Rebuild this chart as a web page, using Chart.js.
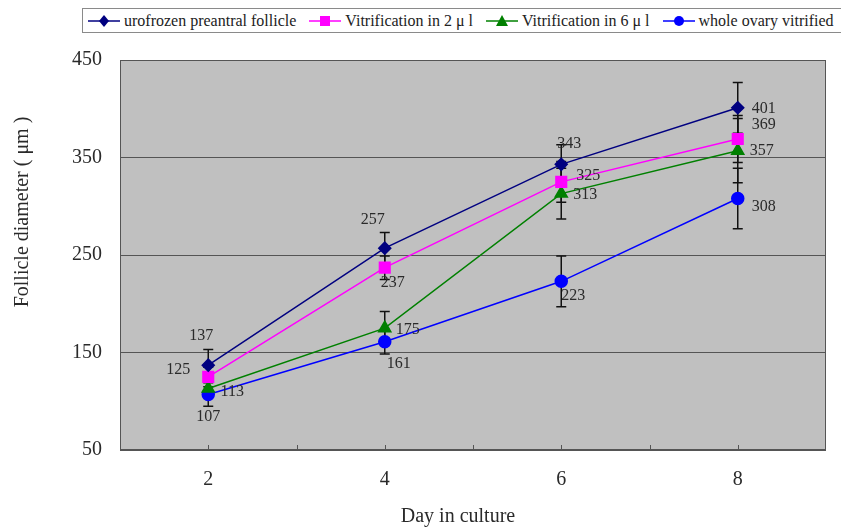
<!DOCTYPE html>
<html>
<head>
<meta charset="utf-8">
<script src="https://cdn.jsdelivr.net/npm/chart.js@4/dist/chart.umd.min.js"></script>
<style>
  html, body { margin: 0; padding: 0; background: #fff; }
  #wrap { position: relative; width: 841px; height: 529px; overflow: hidden; }
  #legend {
    position: absolute; left: 82px; top: 8px; width: 800px; height: 25px;
    border: 1px solid #8a8a8a; background: #fff; box-sizing: border-box; padding-left: 4px;
    display: flex; align-items: center; white-space: nowrap;
    font-family: 'Liberation Serif', 'DejaVu Serif', serif; font-size: 16px; color: #222;
  }
  .item { display: flex; align-items: center; margin-right: 12px; }
  .item svg { margin: 0 3px 0 0; }
</style>
</head>
<body>
<div id="wrap">
  <canvas id="chart" width="841" height="529"></canvas>
  <div id="legend"></div>
</div>
<script>
const DAYS          = [2, 4, 6, 8];
const Y_TICKS       = [50, 150, 250, 350, 450];
const SERIES_NAMES  = ['urofrozen preantral follicle', 'Vitrification in 2 \u03bc l', 'Vitrification in 6 \u03bc l', 'whole ovary vitrified'];
const UROFROZEN     = [137, 257, 343, 401];
const VIT_2UL       = [125, 237, 325, 369];
const VIT_6UL       = [113, 175, 313, 357];
const WHOLE_OVARY   = [107, 161, 223, 308];
const SD_UROFROZEN  = [16, 16, 20, 26];
const SD_VIT_2UL    = [10, 12, 21, 24];
const SD_VIT_6UL    = [8, 17, 26, 33];
const SD_WHOLE      = [12, 12.5, 26, 31];

const COLORS  = ['#000080', '#ff00ff', '#008000', '#0000ff'];
const POINTS  = ['rectRot', 'rect', 'triangle', 'circle'];
const RADII   = [6, 7.5, 7, 6];
const SERIF   = "'Liberation Serif', 'DejaVu Serif', serif";
const TXT     = '#2a2a2a';

// label offsets from each point, px (placement only)
const LABEL_OFFSETS = [
  [[-7, -29], [-12, -28], [8, -21], [26, 1]],
  [[-30, -7], [8, 15], [27, -6], [26, -14]],
  [[24, 3], [23, 2], [24, 1], [24, 0]],
  [[0, 22], [14, 22], [12, 14], [26, 8]],
];

const values = [UROFROZEN, VIT_2UL, VIT_6UL, WHOLE_OVARY];
const errors = [SD_UROFROZEN, SD_VIT_2UL, SD_VIT_6UL, SD_WHOLE];

// legend
const legendEl = document.getElementById('legend');
SERIES_NAMES.forEach((name, i) => {
  const c = COLORS[i];
  let mark;
  if (i === 0) mark = `<polygon points="17,1 22,7 17,13 12,7" fill="${c}"/>`;
  else if (i === 1) mark = `<rect x="12" y="2" width="10" height="10" fill="${c}"/>`;
  else if (i === 2) mark = `<polygon points="17,1 23,12 11,12" fill="${c}"/>`;
  else mark = `<circle cx="17" cy="7" r="5" fill="${c}"/>`;
  legendEl.insertAdjacentHTML('beforeend',
    `<span class="item"><svg width="34" height="14"><line x1="1" y1="7" x2="33" y2="7" stroke="${c}" stroke-width="1.5"/>${mark}</svg>${name}</span>`);
});

const plotDecor = {
  id: 'plotDecor',
  beforeDraw(chart) {
    const { ctx, chartArea: a } = chart;
    ctx.save();
    ctx.fillStyle = '#c0c0c0';
    ctx.fillRect(a.left, a.top, a.right - a.left, a.bottom - a.top);
    ctx.restore();
  },
  beforeDatasetsDraw(chart) {
    const { ctx, scales: { x, y } } = chart;
    ctx.save();
    ctx.strokeStyle = '#111';
    ctx.lineWidth = 1.5;
    errors.forEach((sd, s) => {
      sd.forEach((e, i) => {
        const px = x.getPixelForValue(DAYS[i]);
        const top = y.getPixelForValue(values[s][i] + e);
        const bot = y.getPixelForValue(values[s][i] - e);
        ctx.beginPath();
        ctx.moveTo(px, top); ctx.lineTo(px, bot);
        ctx.moveTo(px - 5, top); ctx.lineTo(px + 5, top);
        ctx.moveTo(px - 5, bot); ctx.lineTo(px + 5, bot);
        ctx.stroke();
      });
    });
    ctx.restore();
  },
  afterDraw(chart) {
    const { ctx, chartArea: a, scales: { x, y } } = chart;
    ctx.save();
    // frame and x tick marks
    ctx.strokeStyle = '#555';
    ctx.lineWidth = 1;
    ctx.strokeRect(a.left + 0.5, a.top + 0.5, a.right - a.left - 1, a.bottom - a.top - 1);
    for (let d = 2; d <= 8; d++) {
      const px = Math.round(x.getPixelForValue(d)) + 0.5;
      ctx.beginPath(); ctx.moveTo(px, a.bottom); ctx.lineTo(px, a.bottom - 5); ctx.stroke();
    }
    // data labels
    ctx.fillStyle = TXT;
    ctx.font = `16px ${SERIF}`;
    ctx.textAlign = 'center';
    ctx.textBaseline = 'middle';
    values.forEach((vals, s) => {
      vals.forEach((v, i) => {
        const [dx, dy] = LABEL_OFFSETS[s][i];
        ctx.fillText(String(v), x.getPixelForValue(DAYS[i]) + dx, y.getPixelForValue(v) + dy);
      });
    });
    // axis titles
    ctx.font = `20px ${SERIF}`;
    ctx.fillText('Day in culture', 458, 517);
    ctx.translate(23, 212);
    ctx.rotate(-Math.PI / 2);
    ctx.fillText('Follicle diameter ( \u03bcm )', 0, 0);
    ctx.restore();
  },
};

new Chart(document.getElementById('chart'), {
  type: 'line',
  data: {
    datasets: values.map((vals, s) => ({
      label: SERIES_NAMES[s],
      data: vals.map((v, i) => ({ x: DAYS[i], y: v })),
      borderColor: COLORS[s],
      backgroundColor: COLORS[s],
      borderWidth: 1.5,
      pointStyle: POINTS[s],
      pointRadius: RADII[s],
      pointHoverRadius: RADII[s],
      tension: 0,
    })),
  },
  options: {
    responsive: false,
    animation: false,
    layout: { padding: { top: 60, right: 15, left: 0, bottom: 0 } },
    plugins: { legend: { display: false }, tooltip: { enabled: false } },
    scales: {
      x: {
        type: 'linear', min: 1, max: 9,
        afterFit: s => { s.height = 79; },
        grid: { display: false },
        border: { display: false },
        ticks: {
          stepSize: 1, padding: 10, color: TXT, font: { family: SERIF, size: 20 },
          callback: v => DAYS.includes(v) ? v : '',
        },
      },
      y: {
        min: 50, max: 450,
        afterFit: s => { s.width = 120; },
        afterBuildTicks: s => { s.ticks = Y_TICKS.map(v => ({ value: v })); },
        grid: { color: '#555', drawTicks: false },
        border: { display: false },
        ticks: { padding: 18, color: TXT, font: { family: SERIF, size: 20 } },
      },
    },
  },
  plugins: [plotDecor],
});
</script>
</body>
</html>
